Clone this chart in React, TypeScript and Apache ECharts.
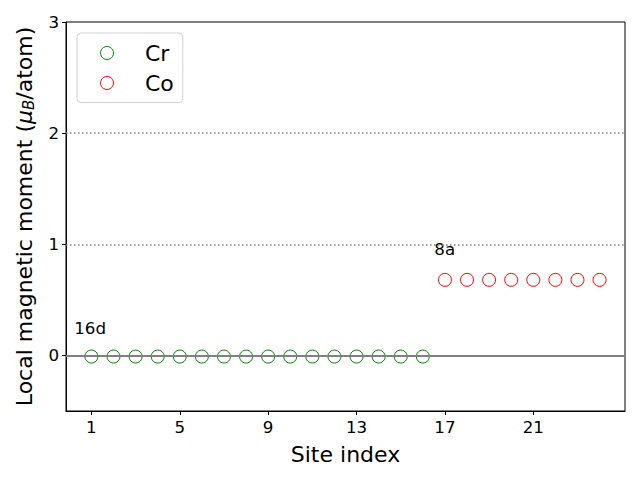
import React, { useEffect, useRef } from "react";
import * as echarts from "echarts";

const crSites = [1, 2, 3, 4, 5, 6, 7, 8, 9, 10, 11, 12, 13, 14, 15, 16];
const crMoments = [-0.01, -0.01, -0.01, -0.01, -0.01, -0.01, -0.01, -0.01, -0.01, -0.01, -0.01, -0.01, -0.01, -0.01, -0.01, -0.01];
const coSites = [17, 18, 19, 20, 21, 22, 23, 24];
const coMoments = [0.68, 0.68, 0.68, 0.68, 0.68, 0.68, 0.68, 0.68];
const xTicks = [1, 5, 9, 13, 17, 21];
const yTicks = [0, 1, 2, 3];
const annotations: [number, number, string][] = [
  [0.22, 0.17, "16d"],
  [16.52, 0.88, "8a"],
];
const dottedLevels = [1, 2];
const solidLevels = [0];

const FONT = "DejaVu Sans";

export default function App() {
  const ref = useRef<HTMLDivElement>(null);
  useEffect(() => {
    if (!ref.current) return;
    const chart = echarts.init(ref.current, undefined, { renderer: "svg" });
    const option: any = {
      animation: false,
      backgroundColor: "#fff",
      textStyle: { fontFamily: FONT },
      grid: {
        left: 66,
        right: 15,
        top: 22,
        bottom: 69,
        show: true,
        borderColor: "#000",
        borderWidth: 1,
        backgroundColor: "transparent",
      },
      legend: {
        orient: "vertical",
        left: 77,
        top: 33,
        padding: [9, 9, 8.5, 23],
        backgroundColor: "#fff",
        borderColor: "#d0d0d0",
        borderWidth: 1,
        borderRadius: 4,
        itemWidth: 66,
        itemHeight: 13,
        itemGap: 8,
        textStyle: { fontFamily: FONT, fontSize: 22, color: "#000" },
        data: [
          { name: "Cr", icon: "circle", itemStyle: { color: "#fff", borderColor: "#008000", borderWidth: 1 } },
          { name: "Co", icon: "circle", itemStyle: { color: "#fff", borderColor: "#ff0000", borderWidth: 1 } },
        ],
      },
      xAxis: {
        type: "value",
        min: -0.15,
        max: 25.15,
        name: "Site index",
        nameLocation: "middle",
        nameGap: 32,
        nameTextStyle: { fontFamily: FONT, fontSize: 22, color: "#000" },
        splitLine: { show: false },
        axisLine: { show: true, onZero: false, lineStyle: { color: "#000", width: 1 } },
        axisTick: { show: true, length: 4, customValues: xTicks, lineStyle: { color: "#000" } },
        axisLabel: { customValues: xTicks, fontFamily: FONT, fontSize: 16.7, color: "#000", margin: 7 },
      },
      yAxis: {
        type: "value",
        min: -0.5,
        max: 3,
        name: "Local magnetic moment ({it|μ}{sub|B}/atom)",
        nameLocation: "middle",
        nameGap: 30,
        nameRotate: 90,
        nameTextStyle: {
          fontFamily: FONT,
          fontSize: 22,
          color: "#000",
          rich: {
            it: { fontFamily: FONT, fontSize: 22, fontStyle: "italic", color: "#000" },
            sub: { fontFamily: FONT, fontSize: 15, fontStyle: "italic", color: "#000", verticalAlign: "bottom", padding: [8, 0, 0, 0] },
          },
        },
        splitLine: { show: false },
        axisLine: { show: true, onZero: false, lineStyle: { color: "#000", width: 1 } },
        axisTick: { show: true, length: 4, customValues: yTicks, lineStyle: { color: "#000" } },
        axisLabel: { customValues: yTicks, fontFamily: FONT, fontSize: 16.7, color: "#000", margin: 7 },
      },
      series: [
        {
          name: "levels",
          type: "scatter",
          z: 1,
          silent: true,
          symbolSize: 0,
          data: annotations.map((a) => [a[0], a[1], a[2]]),
          itemStyle: { color: "#000", opacity: 1 },
          label: {
            show: true,
            formatter: (p: any) => p.value[2],
            position: [0, 0],
            align: "left",
            verticalAlign: "bottom",
            fontFamily: FONT,
            fontSize: 16.7,
            color: "#000",
            opacity: 1,
          },
          markLine: {
            silent: true,
            symbol: "none",
            label: { show: false },
            data: [
              ...solidLevels.map((v) => ({ yAxis: v, lineStyle: { color: "#808080", width: 2, type: "solid", opacity: 1 } })),
              ...dottedLevels.map((v) => ({ yAxis: v, lineStyle: { color: "#808080", width: 1.5, type: [1.5, 2.5], opacity: 1 } })),
            ],
          },
        },
        {
          name: "Cr",
          type: "scatter",
          z: 3,
          symbol: "circle",
          symbolSize: 13,
          itemStyle: { color: "#fff", borderColor: "#008000", borderWidth: 1, opacity: 1 },
          data: crSites.map((s, i) => [s, crMoments[i]]),
        },
        {
          name: "Co",
          type: "scatter",
          z: 3,
          symbol: "circle",
          symbolSize: 13,
          itemStyle: { color: "#fff", borderColor: "#ff0000", borderWidth: 1, opacity: 1 },
          data: coSites.map((s, i) => [s, coMoments[i]]),
        },
      ],
    };
    chart.setOption(option);
    return () => chart.dispose();
  }, []);
  return <div ref={ref} style={{ width: 640, height: 480, position: "absolute", left: 0, top: 0 }} />;
}
